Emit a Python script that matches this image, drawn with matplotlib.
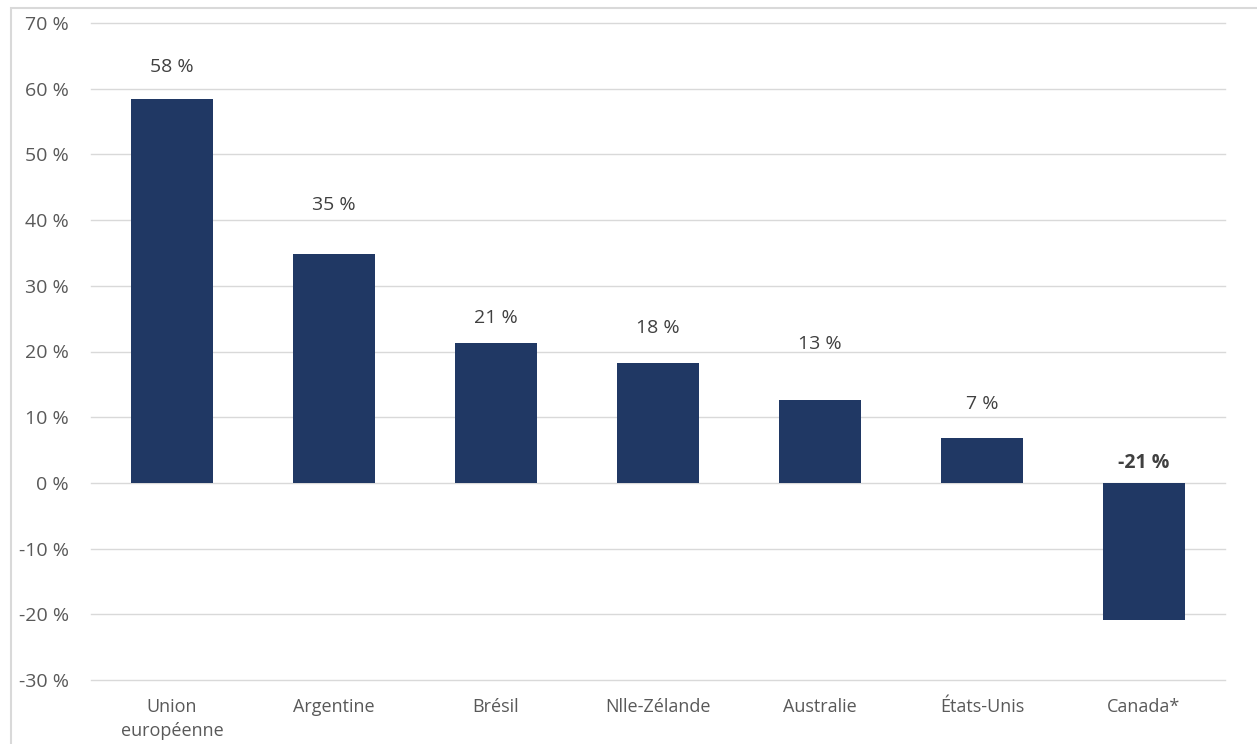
import numpy as np
import matplotlib.pyplot as plt
from matplotlib.patches import Rectangle

### Data ###
categories = ['Union\neuropéenne', 'Argentine', 'Brésil', 'Nlle-Zélande', 'Australie', 'États-Unis', 'Canada*']
values = [58.4, 34.9, 21.3, 18.3, 12.6, 6.8, -20.9]
labels = ['58 %', '35 %', '21 %', '18 %', '13 %', '7 %', '-21 %']
label_bold = [False, False, False, False, False, False, True]
yticks = list(range(-30, 80, 10))

# manual label offsets above bar top (pixels), as in the original
label_offsets = [32, 49, 25, 35, 56, 34, 20]

plt.rcParams['font.family'] = ['Open Sans', 'DejaVu Sans']

fig = plt.figure(figsize=(12.57, 7.44), dpi=100)
ax = fig.add_axes([91 / 1257, 1 - 680 / 744, (1225 - 91) / 1257, (680 - 23) / 744])

x = np.arange(len(categories))
ax.bar(x, values, width=0.505, color='#203864', zorder=3)

for i, v in enumerate(values):
    base = max(v, 0)
    ax.annotate(labels[i], (x[i], base), xytext=(0, label_offsets[i] * 0.72),
                textcoords='offset points', ha='center', va='center',
                fontsize=14, color='#404040',
                fontweight='bold' if label_bold[i] else 'normal')

ax.set_xlim(-0.5, len(categories) - 0.5)
ax.set_ylim(-30, 70)
ax.set_yticks(yticks)
ax.set_yticklabels(['%d %%' % t for t in yticks], fontsize=14, color='#595959')
ax.set_xticks(x)
ax.set_xticklabels(categories, fontsize=13, color='#595959', linespacing=1.4)
ax.tick_params(axis='y', length=0, pad=16)
ax.tick_params(axis='x', length=0, pad=13)
ax.grid(axis='y', color='#d9d9d9', linewidth=1.0, zorder=0)
for gl in ax.get_ygridlines():
    gl.set_clip_on(False)
for s in ax.spines.values():
    s.set_visible(False)

# outer chart border
fig.patches.append(Rectangle((11 / 1257, -0.1), 1.2, 1 - 8 / 744 + 0.1,
                             transform=fig.transFigure, fill=False,
                             edgecolor='#d9d9d9', linewidth=1.5))

fig.savefig('out.png', dpi=100)
